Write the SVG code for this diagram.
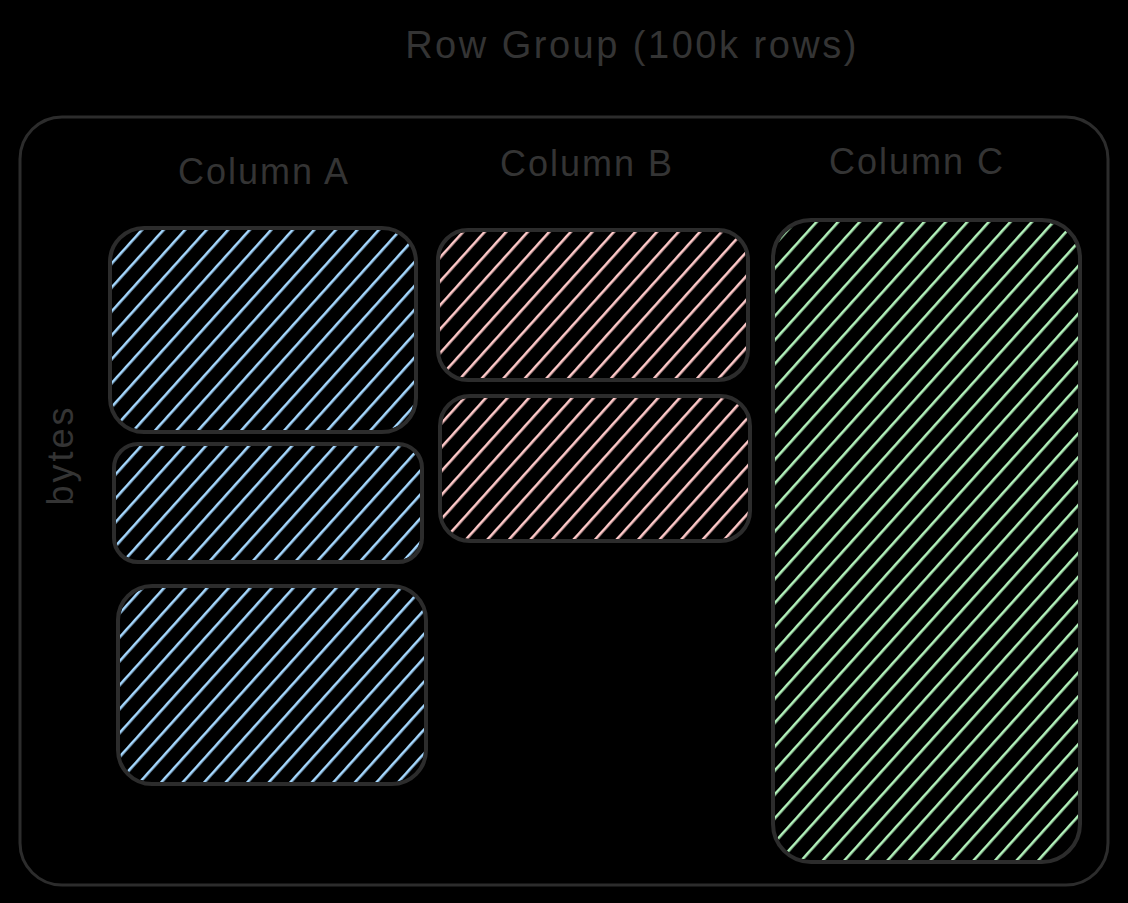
<svg xmlns="http://www.w3.org/2000/svg" width="1128" height="903" viewBox="0 0 1128 903">
<style>
.lbl{font-family:"Liberation Sans",sans-serif;fill:#343434;}
.box{fill:none;stroke:#2c2c2c;stroke-width:4;}
.frame{fill:none;stroke:#2c2c2c;stroke-width:3;}
</style>
<defs>
<pattern id="hb" patternUnits="userSpaceOnUse" width="16" height="16" patternTransform="rotate(42)"><rect x="2" y="0" width="2.6" height="16" fill="#a5d8ff"/></pattern>
<pattern id="hp" patternUnits="userSpaceOnUse" width="16" height="16" patternTransform="rotate(42)"><rect x="2" y="0" width="2.6" height="16" fill="#ffc9c9"/></pattern>
<pattern id="hg" patternUnits="userSpaceOnUse" width="16" height="16" patternTransform="rotate(42)"><rect x="2" y="0" width="2.6" height="16" fill="#b2f2bb"/></pattern>
</defs>
<rect width="1128" height="903" fill="#000"/>
<g id="title"><text class="lbl" x="632" y="58" font-size="38" letter-spacing="2.5" text-anchor="middle">Row Group (100k rows)</text></g>
<g id="rowgroup"><rect class="frame" x="20" y="117" width="1088" height="768" rx="42"/></g>
<g id="labels">
<text class="lbl" x="264" y="184" font-size="36" letter-spacing="2" text-anchor="middle">Column A</text>
<text class="lbl" x="587" y="176" font-size="36" letter-spacing="2" text-anchor="middle">Column B</text>
<text class="lbl" x="917" y="174" font-size="36" letter-spacing="2" text-anchor="middle">Column C</text>
<text class="lbl" font-size="36" letter-spacing="3" text-anchor="middle" transform="translate(73,455) rotate(-90)">bytes</text>
</g>
<g id="a1"><rect x="112" y="230" width="302" height="200" rx="32" fill="url(#hb)"/><rect class="box" x="110" y="228" width="306" height="204" rx="34"/></g>
<g id="a2"><rect x="116" y="446" width="304" height="114" rx="22" fill="url(#hb)"/><rect class="box" x="114" y="444" width="308" height="118" rx="24"/></g>
<g id="a3"><rect x="120" y="588" width="304" height="194" rx="32" fill="url(#hb)"/><rect class="box" x="118" y="586" width="308" height="198" rx="34"/></g>
<g id="b1"><rect x="440" y="232" width="306" height="146" rx="28" fill="url(#hp)"/><rect class="box" x="438" y="230" width="310" height="150" rx="30"/></g>
<g id="b2"><rect x="442" y="398" width="306" height="141" rx="28" fill="url(#hp)"/><rect class="box" x="440" y="396" width="310" height="145" rx="30"/></g>
<g id="c1"><rect x="775" y="222" width="303" height="638" rx="36" fill="url(#hg)"/><rect class="box" x="773" y="220" width="307" height="642" rx="38"/></g>
<g id="connectors"></g>
</svg>
